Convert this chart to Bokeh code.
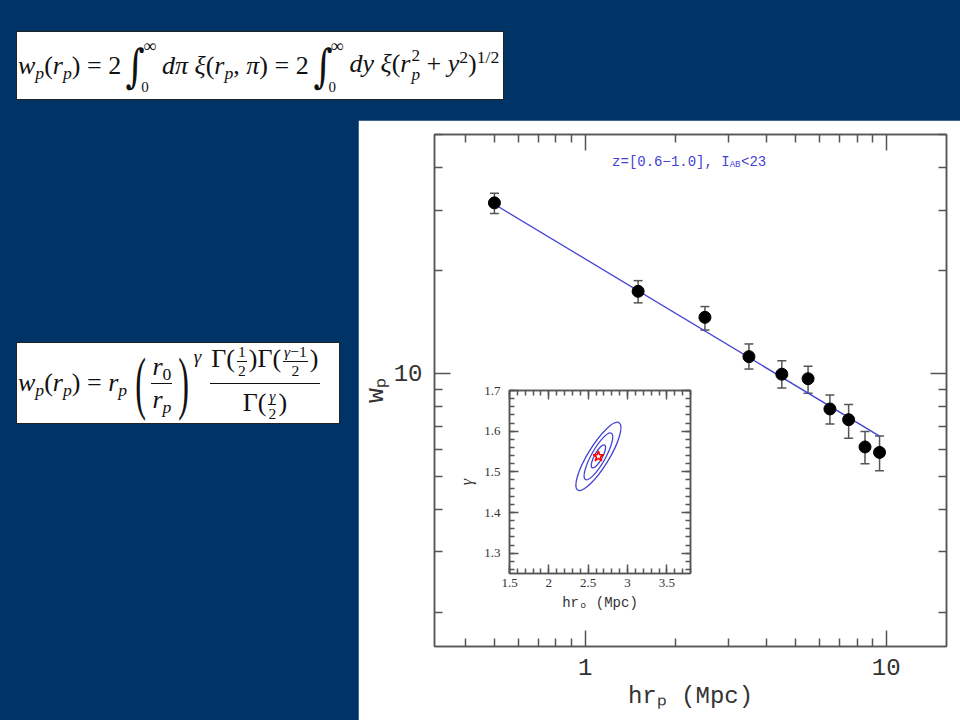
from bokeh.plotting import figure
from bokeh.models import (Div, Range1d, FixedTicker, LogAxis, LinearAxis, Whisker,
                          ColumnDataSource, Label, CustomJSTickFormatter, TeeHead)
from bokeh.embed import file_html
from bokeh.resources import INLINE

# ---------------- data ----------------
rp = [0.5, 1.5, 2.5, 3.5, 4.5, 5.5, 6.5, 7.5, 8.5, 9.5]
wp = [31.6, 17.4, 14.6, 11.2, 9.95, 9.65, 7.87, 7.32, 6.09, 5.87]
wp_upper = [33.7, 18.7, 15.7, 12.2, 10.9, 10.5, 8.64, 8.11, 6.76, 6.56]
wp_lower = [29.4, 16.1, 13.4, 10.3, 9.06, 8.75, 7.11, 6.46, 5.44, 5.19]
fit_rp = [0.5, 9.5]
fit_wp = [31.3, 6.55]

x_major_ticks = [1, 10]
x_minor_ticks = [0.4, 0.5, 0.6, 0.7, 0.8, 0.9, 2, 3, 4, 5, 6, 7, 8, 9]
y_major_ticks = [10]
y_minor_ticks = [2, 3, 4, 5, 6, 7, 8, 9, 20, 30, 40, 50]

best_r0 = [2.63]
best_gamma = [1.538]
contour_r0 = [2.63, 2.63, 2.63]
contour_gamma = [1.538, 1.538, 1.538]
inset_x_ticks = [1.5, 2, 2.5, 3, 3.5]
inset_y_ticks = [1.3, 1.4, 1.5, 1.6, 1.7]

# ---------------- styles ----------------
SLIDE = "#003366"
AXC = "#555555"
BLUE = "#4343d6"
MONO = "Liberation Mono"
SERIF = "Liberation Serif"

num_fmt = CustomJSTickFormatter(code="return String(tick);")
blank_fmt = CustomJSTickFormatter(code="return '';")


def style_axis(ax, major_in, minor_in, font, size, standoff, blank=False):
    ax.major_tick_in = major_in
    ax.major_tick_out = 0
    ax.minor_tick_in = minor_in
    ax.minor_tick_out = 0
    ax.axis_line_color = AXC
    ax.axis_line_width = 1.5
    ax.major_tick_line_color = AXC
    ax.major_tick_line_width = 1.5
    ax.minor_tick_line_color = AXC
    ax.minor_tick_line_width = 1.5
    ax.major_label_text_font = font
    ax.major_label_text_color = "#333333"
    if blank:
        ax.formatter = blank_fmt
        ax.major_label_text_font_size = "1px"
        ax.major_label_standoff = 0
    else:
        ax.formatter = num_fmt
        ax.major_label_text_font_size = size
        ax.major_label_standoff = standoff


def place(left, top):
    return {"position": "absolute", "left": f"{left}px", "top": f"{top}px", "margin": "0px"}


# ---------------- background ----------------
bg = Div(text="", width=960, height=720,
         styles={**place(0, 0), "background-color": SLIDE})

# ---------------- main plot ----------------
p = figure(width=602, height=600, x_axis_type="log", y_axis_type="log",
           x_range=Range1d(10 ** -0.5, 10 ** 1.2), y_range=Range1d(10 ** 0.2, 10 ** 1.7),
           output_backend="svg", toolbar_location=None, title=None,
           min_border_left=76, min_border_right=14, min_border_top=14, min_border_bottom=74,
           background_fill_color="white", border_fill_color="white")
p.styles = place(358, 120)
p.grid.visible = False
p.outline_line_color = AXC
p.outline_line_width = 1.5

xt = FixedTicker(ticks=x_major_ticks, minor_ticks=x_minor_ticks)
yt = FixedTicker(ticks=y_major_ticks, minor_ticks=y_minor_ticks)
xa = p.xaxis[0]
ya = p.yaxis[0]
xa.ticker = xt
ya.ticker = yt
style_axis(xa, 16, 8, MONO, "24px", 12)
style_axis(ya, 16, 8, MONO, "24px", 12)
xa.axis_label = "hrₚ (Mpc)"
ya.axis_label = "wₚ"
for ax in (xa, ya):
    ax.axis_label_text_font = MONO
    ax.axis_label_text_font_style = "normal"
    ax.axis_label_text_color = "#333333"
xa.axis_label_text_font_size = "24px"
xa.axis_label_standoff = 5
ya.axis_label_text_font_size = "25px"
ya.axis_label_standoff = 0

top_ax = LogAxis(ticker=xt)
right_ax = LogAxis(ticker=yt)
style_axis(top_ax, 16, 8, MONO, "1px", 0, blank=True)
style_axis(right_ax, 16, 8, MONO, "1px", 0, blank=True)
p.add_layout(top_ax, "above")
p.add_layout(right_ax, "right")

src = ColumnDataSource(dict(rp=rp, wp=wp, upper=wp_upper, lower=wp_lower))
p.add_layout(Whisker(base="rp", upper="upper", lower="lower", source=src,
                     dimension="height", line_color=AXC, line_width=1.5,
                     upper_head=TeeHead(size=9, line_color=AXC, line_width=1.5),
                     lower_head=TeeHead(size=9, line_color=AXC, line_width=1.5)))
p.line(fit_rp, fit_wp, line_color=BLUE, line_width=1.3)
p.scatter("rp", "wp", source=src, size=12, color="black")

# in-plot title: z=[0.6-1.0], I_AB<23
tx, ty = 10 ** 0.35, 41.5
p.add_layout(Label(x=tx, y=ty, x_offset=-78.4, text="z=[0.6−1.0], I",
                   text_font=MONO, text_font_size="14px", text_color=BLUE,
                   text_align="left", text_baseline="alphabetic"))
p.add_layout(Label(x=tx, y=ty, x_offset=39.2, y_offset=-3, text="AB",
                   text_font=MONO, text_font_size="9px", text_color=BLUE,
                   text_align="left", text_baseline="alphabetic"))
p.add_layout(Label(x=tx, y=ty, x_offset=50.5, text="<23",
                   text_font=MONO, text_font_size="14px", text_color=BLUE,
                   text_align="left", text_baseline="alphabetic"))

# ---------------- inset ----------------
ins = figure(width=245, height=250, x_range=Range1d(1.5, 3.8), y_range=Range1d(1.25, 1.7),
             output_backend="svg", toolbar_location=None, title=None,
             min_border_left=52, min_border_right=10, min_border_top=10, min_border_bottom=57,
             background_fill_color="white", border_fill_color="white")
ins.styles = place(455, 380)
ins.grid.visible = False
ins.outline_line_color = AXC
ins.outline_line_width = 1.5
ixt = FixedTicker(ticks=inset_x_ticks, minor_ticks=[round(1.5 + 0.1 * i, 2) for i in range(24)])
iyt = FixedTicker(ticks=inset_y_ticks, minor_ticks=[round(1.26 + 0.02 * i, 2) for i in range(23)])
ixa = ins.xaxis[0]
iya = ins.yaxis[0]
ixa.ticker = ixt
iya.ticker = iyt
style_axis(ixa, 9, 5, SERIF, "13px", 5)
style_axis(iya, 9, 5, SERIF, "13px", 9)
ixa.axis_label = "hrₒ (Mpc)"
ixa.axis_label_text_font = MONO
ixa.axis_label_text_font_size = "14px"
ixa.axis_label_text_font_style = "normal"
ixa.axis_label_standoff = 5
iya.axis_label = "γ"
iya.axis_label_text_font = SERIF
iya.axis_label_text_font_size = "16px"
iya.axis_label_text_font_style = "italic"
iya.axis_label_standoff = 6
for ax in (ixa, iya):
    ax.axis_label_text_color = "#333333"
itop = LinearAxis(ticker=ixt)
iright = LinearAxis(ticker=iyt)
style_axis(itop, 9, 5, SERIF, "1px", 0, blank=True)
style_axis(iright, 9, 5, SERIF, "1px", 0, blank=True)
ins.add_layout(itop, "above")
ins.add_layout(iright, "right")

ins.ellipse(x=contour_r0, y=contour_gamma, width=[26, 53, 79], height=[8, 14, 21],
            angle=[1.07, 1.06, 1.02], width_units="screen", height_units="screen",
            fill_color=None, line_color=BLUE, line_width=1.3)
ins.scatter(best_r0, best_gamma, marker="star", size=11, fill_color=None,
            line_color="red", line_width=1.5)


# ---------------- equations ----------------
def it(s):
    return f"<i>{s}</i>"


def sb(s):
    return f'<span style="font-size:0.68em;position:relative;top:0.3em">{s}</span>'


def sp(s):
    return f'<span style="font-size:0.68em;position:relative;top:-0.5em">{s}</span>'


def subsup(sub, sup):
    return ('<span style="display:inline-block;vertical-align:-0.45em;line-height:1.08;font-size:0.66em;margin-left:1px">'
            f'<span style="display:block">{sup}</span><span style="display:block">{sub}</span></span>')


def integ():
    return ('<span style="display:inline-flex;align-items:stretch;height:58px;margin:0 6px 0 2px">'
            '<span style="font-family:\'DejaVu Serif\';font-size:46px;line-height:58px;'
            'display:inline-block;transform:scaleX(0.8)">∫</span>'
            '<span style="display:flex;flex-direction:column;justify-content:space-between;'
            'font-size:18px;line-height:1">'
            '<span style="margin-left:-4px">∞</span>'
            '<span style="margin-left:-6px;font-size:15px">0</span></span></span>')


rp_ = it("r") + sb(it("p"))
eq1_html = (
    f'<div style="font-family:{SERIF};font-size:26px;white-space:nowrap;color:#111;'
    'display:flex;align-items:center;height:67px;padding-left:1px;line-height:1">'
    + "<span>" + it("w") + sb(it("p")) + "(" + rp_ + ") = 2</span>" + integ()
    + "<span>" + it("dπ") + " " + it("ξ") + "(" + rp_ + ", " + it("π") + ") = 2</span>"
    + integ()
    + "<span>" + it("dy") + " " + it("ξ") + "(" + it("r") + subsup(it("p"), "2")
    + " + " + it("y") + sp("2") + ")" + sp("1/2") + "</span>"
    + "</div>"
)
eq1 = Div(text=eq1_html, width=488, height=69,
          styles={**place(16, 31), "background-color": "white", "border": "1px solid #222",
                  "box-sizing": "border-box", "overflow": "hidden"})


def frac(num, den, size="1em", pad="2px", small=False):
    va = "vertical-align:middle;margin:0 2px;" if small else "margin:0 1px;"
    return (f'<span style="display:inline-flex;flex-direction:column;align-items:center;'
            f'font-size:{size};line-height:1;{va}">'
            f'<span style="padding:0 1px {pad} 1px">{num}</span>'
            f'<span style="border-top:1.2px solid #111;align-self:stretch;text-align:center;'
            f'padding-top:{pad}">{den}</span></span>')


def bigparen(c, margin):
    return (f'<span style="display:inline-block;font-size:46px;line-height:1;margin:{margin};'
            f'transform:scale(0.7,1.5)">{c}</span>')


half = frac("1", "2", "0.6em", "1px", True)
gm1 = frac(it("γ") + "−1", "2", "0.6em", "1px", True)
g2 = frac(it("γ"), "2", "0.6em", "1px", True)
eq2_html = (
    f'<div style="font-family:{SERIF};font-size:26px;white-space:nowrap;color:#111;'
    'display:flex;align-items:center;height:80px;padding-left:1px;line-height:1">'
    + f'<span>{it("w")}{sb(it("p"))}({rp_}) = {rp_}</span>'
    + bigparen("(", "0 2px 0 6px")
    + frac(it("r") + sb("0"), rp_, "1em", "3px")
    + bigparen(")", "0 2px 0 3px")
    + f'<span style="align-self:flex-start;margin-top:4px;font-size:19px">{it("γ")}</span>'
    + '<span style="width:8px"></span>'
    + frac("Γ(" + half + ")Γ(" + gm1 + ")", "Γ(" + g2 + ")", "1em", "4px")
    + "</div>"
)
eq2 = Div(text=eq2_html, width=324, height=82,
          styles={**place(16, 342), "background-color": "white", "border": "1px solid #222",
                  "box-sizing": "border-box", "overflow": "hidden"})

html = file_html([bg, p, ins, eq1, eq2], INLINE, title="wp")
open("out.html", "w").write(html)
